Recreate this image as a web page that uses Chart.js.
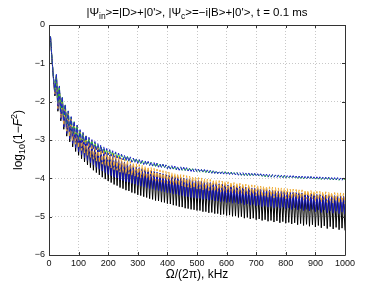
<!doctype html>
<html lang="en">
<head>
  <meta charset="utf-8">
  <title>log10(1-F^2) vs Omega</title>
  <script src="https://cdn.jsdelivr.net/npm/chart.js@4.4.1/dist/chart.umd.min.js"></script>
  <style>
    html, body { margin: 0; padding: 0; background: #fff; }
    canvas { display: block; }
  </style>
</head>
<body>
<canvas id="fidChart" width="382" height="287"></canvas>
<script>
  // frequency grid, kHz
  const freq = [
    5,10,15,20,25,30,35,40,45,50,55,60,65,70,75,80,85,90,95,100,
    105,110,115,120,125,130,135,140,145,150,155,160,165,170,175,180,185,190,195,200,
    205,210,215,220,225,230,235,240,245,250,255,260,265,270,275,280,285,290,295,300,
    305,310,315,320,325,330,335,340,345,350,355,360,365,370,375,380,385,390,395,400,
    405,410,415,420,425,430,435,440,445,450,455,460,465,470,475,480,485,490,495,500,
    505,510,515,520,525,530,535,540,545,550,555,560,565,570,575,580,585,590,595,600,
    605,610,615,620,625,630,635,640,645,650,655,660,665,670,675,680,685,690,695,700,
    705,710,715,720,725,730,735,740,745,750,755,760,765,770,775,780,785,790,795,800,
    805,810,815,820,825,830,835,840,845,850,855,860,865,870,875,880,885,890,895,900,
    905,910,915,920,925,930,935,940,945,950,955,960,965,970,975,980,985,990,995,1000
  ];

  const blackSolid = [
    -0.30,-0.88,-1.40,-1.85,-1.32,-2.25,-1.64,-2.50,-1.92,-2.72,-2.12,-2.90,-2.30,-3.05,-2.45,-3.18,-2.58,-3.30,-2.69,-3.40,
    -2.79,-3.49,-2.88,-3.57,-2.96,-3.65,-3.03,-3.72,-3.10,-3.79,-3.16,-3.85,-3.22,-3.91,-3.27,-3.97,-3.32,-4.02,-3.37,-4.07,
    -3.41,-4.11,-3.45,-4.16,-3.49,-4.19,-3.53,-4.24,-3.57,-4.27,-3.60,-4.31,-3.63,-4.33,-3.66,-4.37,-3.69,-4.39,-3.72,-4.43,
    -3.74,-4.45,-3.76,-4.48,-3.78,-4.50,-3.80,-4.53,-3.82,-4.55,-3.84,-4.58,-3.86,-4.59,-3.88,-4.62,-3.90,-4.63,-3.92,-4.66,
    -3.94,-4.67,-3.95,-4.70,-3.97,-4.71,-3.98,-4.74,-4.00,-4.75,-4.01,-4.78,-4.03,-4.79,-4.04,-4.81,-4.06,-4.82,-4.07,-4.84,
    -4.08,-4.84,-4.09,-4.87,-4.11,-4.87,-4.12,-4.90,-4.13,-4.89,-4.14,-4.92,-4.15,-4.92,-4.16,-4.95,-4.17,-4.94,-4.18,-4.97,
    -4.19,-4.96,-4.20,-4.99,-4.21,-4.98,-4.22,-5.02,-4.23,-5.00,-4.24,-5.04,-4.25,-5.02,-4.26,-5.06,-4.27,-5.04,-4.28,-5.08,
    -4.29,-5.06,-4.30,-5.10,-4.31,-5.08,-4.31,-5.12,-4.32,-5.10,-4.33,-5.14,-4.34,-5.11,-4.35,-5.16,-4.35,-5.13,-4.36,-5.17,
    -4.37,-5.15,-4.38,-5.19,-4.38,-5.16,-4.39,-5.21,-4.40,-5.18,-4.40,-5.23,-4.41,-5.20,-4.42,-5.25,-4.42,-5.21,-4.43,-5.27,
    -4.44,-5.23,-4.44,-5.29,-4.45,-5.24,-4.45,-5.31,-4.46,-5.26,-4.47,-5.32,-4.47,-5.28,-4.48,-5.34,-4.48,-5.30,-4.49,-5.36
  ];

  const blueSolid = [
    -0.30,-0.88,-1.38,-1.82,-1.30,-2.21,-1.62,-2.45,-1.90,-2.66,-2.10,-2.83,-2.28,-2.97,-2.43,-3.09,-2.56,-3.20,-2.67,-3.30,
    -2.77,-3.38,-2.86,-3.46,-2.94,-3.53,-3.01,-3.59,-3.08,-3.65,-3.14,-3.71,-3.20,-3.76,-3.25,-3.81,-3.30,-3.85,-3.35,-3.90,
    -3.39,-3.93,-3.43,-3.97,-3.47,-3.99,-3.51,-4.04,-3.55,-4.06,-3.58,-4.09,-3.61,-4.10,-3.64,-4.13,-3.67,-4.15,-3.70,-4.18,
    -3.72,-4.20,-3.74,-4.22,-3.76,-4.24,-3.78,-4.27,-3.80,-4.28,-3.82,-4.31,-3.84,-4.32,-3.86,-4.34,-3.88,-4.35,-3.90,-4.38,
    -3.92,-4.38,-3.93,-4.41,-3.95,-4.41,-3.96,-4.44,-3.98,-4.45,-3.99,-4.47,-4.01,-4.48,-4.02,-4.50,-4.04,-4.50,-4.05,-4.52,
    -4.06,-4.52,-4.07,-4.55,-4.09,-4.54,-4.10,-4.57,-4.11,-4.56,-4.12,-4.59,-4.13,-4.59,-4.14,-4.61,-4.15,-4.60,-4.16,-4.63,
    -4.17,-4.62,-4.18,-4.65,-4.19,-4.63,-4.20,-4.67,-4.21,-4.65,-4.22,-4.69,-4.23,-4.67,-4.24,-4.70,-4.25,-4.68,-4.26,-4.72,
    -4.27,-4.70,-4.28,-4.74,-4.29,-4.71,-4.29,-4.75,-4.30,-4.73,-4.31,-4.77,-4.32,-4.74,-4.33,-4.78,-4.33,-4.75,-4.34,-4.79,
    -4.35,-4.77,-4.36,-4.81,-4.36,-4.77,-4.37,-4.82,-4.38,-4.79,-4.38,-4.84,-4.39,-4.81,-4.40,-4.85,-4.40,-4.81,-4.41,-4.87,
    -4.42,-4.83,-4.42,-4.89,-4.43,-4.83,-4.43,-4.90,-4.44,-4.85,-4.45,-4.91,-4.45,-4.86,-4.46,-4.92,-4.46,-4.88,-4.47,-4.94
  ];

  const orangeDashed = [
    -0.30,-0.88,-1.38,-1.80,-1.30,-2.18,-1.62,-2.41,-1.90,-2.61,-2.10,-2.77,-2.27,-2.90,-2.42,-3.01,-2.54,-3.11,-2.64,-3.20,
    -2.73,-3.27,-2.82,-3.34,-2.89,-3.40,-2.96,-3.45,-3.02,-3.50,-3.08,-3.55,-3.13,-3.59,-3.18,-3.63,-3.23,-3.66,-3.27,-3.70,
    -3.31,-3.73,-3.35,-3.77,-3.39,-3.79,-3.43,-3.84,-3.47,-3.85,-3.50,-3.88,-3.53,-3.89,-3.56,-3.92,-3.59,-3.94,-3.62,-3.96,
    -3.64,-3.98,-3.66,-3.99,-3.68,-4.01,-3.70,-4.04,-3.72,-4.05,-3.74,-4.07,-3.76,-4.08,-3.78,-4.10,-3.80,-4.11,-3.82,-4.14,
    -3.84,-4.14,-3.85,-4.17,-3.87,-4.17,-3.88,-4.19,-3.90,-4.20,-3.91,-4.22,-3.93,-4.23,-3.94,-4.25,-3.96,-4.25,-3.97,-4.27,
    -3.98,-4.27,-3.99,-4.30,-4.01,-4.29,-4.02,-4.32,-4.03,-4.31,-4.04,-4.34,-4.05,-4.34,-4.06,-4.36,-4.07,-4.35,-4.08,-4.37,
    -4.09,-4.36,-4.10,-4.39,-4.11,-4.37,-4.12,-4.41,-4.13,-4.39,-4.14,-4.43,-4.15,-4.41,-4.16,-4.44,-4.17,-4.42,-4.18,-4.46,
    -4.19,-4.44,-4.20,-4.48,-4.21,-4.45,-4.21,-4.49,-4.22,-4.47,-4.23,-4.51,-4.24,-4.48,-4.25,-4.52,-4.25,-4.49,-4.26,-4.53,
    -4.27,-4.51,-4.28,-4.54,-4.28,-4.50,-4.29,-4.55,-4.30,-4.52,-4.30,-4.57,-4.31,-4.54,-4.32,-4.58,-4.32,-4.54,-4.33,-4.60,
    -4.34,-4.56,-4.34,-4.62,-4.35,-4.56,-4.35,-4.63,-4.36,-4.58,-4.37,-4.64,-4.37,-4.59,-4.38,-4.65,-4.38,-4.61,-4.39,-4.67
  ];

  const greenDashed = [
    -0.30,-0.88,-1.36,-1.70,-1.30,-2.02,-1.60,-2.27,-1.88,-2.45,-2.08,-2.60,-2.25,-2.72,-2.40,-2.83,-2.52,-2.92,-2.62,-3.00,
    -2.76,-3.02,-2.83,-3.07,-2.90,-3.12,-2.96,-3.16,-3.02,-3.21,-3.07,-3.25,-3.12,-3.29,-3.16,-3.32,-3.20,-3.35,-3.24,-3.37,
    -3.27,-3.40,-3.30,-3.43,-3.33,-3.46,-3.36,-3.48,-3.39,-3.51,-3.41,-3.53,-3.43,-3.55,-3.46,-3.57,-3.48,-3.58,-3.50,-3.60,
    -3.52,-3.62,-3.53,-3.63,-3.55,-3.65,-3.57,-3.66,-3.58,-3.68,-3.60,-3.69,-3.61,-3.70,-3.63,-3.72,-3.64,-3.73,-3.65,-3.74,
    -3.67,-3.75,-3.68,-3.76,-3.69,-3.77,-3.70,-3.78,-3.71,-3.79,-3.72,-3.80,-3.73,-3.81,-3.74,-3.81,-3.75,-3.82,-3.76,-3.83,
    -3.77,-3.84,-3.77,-3.84,-3.78,-3.85,-3.79,-3.86,-3.80,-3.86,-3.80,-3.87,-3.81,-3.87,-3.82,-3.88,-3.82,-3.88,-3.83,-3.89,
    -3.84,-3.90,-3.84,-3.90,-3.85,-3.91,-3.85,-3.91,-3.86,-3.92,-3.86,-3.92,-3.87,-3.93,-3.87,-3.93,-3.88,-3.94,-3.88,-3.94,
    -3.89,-3.95,-3.89,-3.95,-3.90,-3.96,-3.90,-3.96,-3.91,-3.96,-3.91,-3.97,-3.92,-3.97,-3.92,-3.98,-3.93,-3.98,-3.93,-3.98,
    -3.94,-3.99,-3.94,-3.99,-3.94,-4.00,-3.95,-4.00,-3.95,-4.00,-3.95,-4.01,-3.96,-4.01,-3.96,-4.01,-3.96,-4.02,-3.97,-4.02,
    -3.97,-4.02,-3.97,-4.03,-3.98,-4.03,-3.98,-4.03,-3.98,-4.04,-3.99,-4.04,-3.99,-4.04,-3.99,-4.05,-4.00,-4.05,-4.00,-4.05
  ];

  const blueDashed = [
    -0.30,-0.88,-1.37,-1.74,-1.29,-2.08,-1.59,-2.32,-1.87,-2.51,-2.07,-2.66,-2.24,-2.78,-2.39,-2.89,-2.51,-2.98,-2.61,-3.06,
    -2.73,-3.07,-2.80,-3.12,-2.87,-3.16,-2.93,-3.20,-2.99,-3.24,-3.04,-3.28,-3.09,-3.31,-3.13,-3.34,-3.18,-3.37,-3.22,-3.39,
    -3.25,-3.42,-3.28,-3.45,-3.31,-3.47,-3.34,-3.50,-3.37,-3.52,-3.40,-3.54,-3.42,-3.56,-3.44,-3.58,-3.47,-3.59,-3.49,-3.61,
    -3.51,-3.62,-3.53,-3.64,-3.54,-3.65,-3.56,-3.67,-3.57,-3.68,-3.59,-3.70,-3.60,-3.71,-3.62,-3.72,-3.63,-3.73,-3.65,-3.75,
    -3.66,-3.76,-3.67,-3.77,-3.68,-3.78,-3.69,-3.79,-3.70,-3.80,-3.71,-3.80,-3.72,-3.81,-3.73,-3.82,-3.74,-3.83,-3.75,-3.83,
    -3.76,-3.84,-3.77,-3.85,-3.77,-3.85,-3.78,-3.86,-3.79,-3.87,-3.79,-3.87,-3.80,-3.88,-3.81,-3.88,-3.81,-3.89,-3.82,-3.89,
    -3.83,-3.90,-3.83,-3.90,-3.84,-3.91,-3.84,-3.92,-3.85,-3.92,-3.85,-3.93,-3.86,-3.93,-3.86,-3.94,-3.87,-3.94,-3.87,-3.95,
    -3.88,-3.95,-3.88,-3.96,-3.89,-3.96,-3.89,-3.97,-3.90,-3.97,-3.90,-3.97,-3.91,-3.98,-3.91,-3.98,-3.92,-3.99,-3.92,-3.99,
    -3.93,-3.99,-3.93,-4.00,-3.93,-4.00,-3.94,-4.01,-3.94,-4.01,-3.94,-4.01,-3.95,-4.02,-3.95,-4.02,-3.95,-4.02,-3.96,-4.03,
    -3.96,-4.03,-3.96,-4.03,-3.97,-4.04,-3.97,-4.04,-3.97,-4.04,-3.98,-4.05,-3.98,-4.05,-3.98,-4.05,-3.99,-4.06,-3.99,-4.06
  ];

  const xTicks = [0, 100, 200, 300, 400, 500, 600, 700, 800, 900, 1000];
  const yTicks = [-6, -5, -4, -3, -2, -1, 0];

  const FONT = '"Liberation Sans", Arial, sans-serif';

  function pts(ys) {
    return freq.map((f, i) => ({ x: f, y: ys[i] }));
  }

  // draws a run of text pieces; each piece may be shifted up/down and smaller
  function drawRuns(ctx, runs, x, y, align) {
    let total = 0;
    runs.forEach(r => {
      ctx.font = (r.italic ? 'italic ' : '') + r.size + 'px ' + FONT;
      r.w = ctx.measureText(r.t).width;
      total += r.w;
    });
    let cx = align === 'center' ? x - total / 2 : x;
    runs.forEach(r => {
      ctx.font = (r.italic ? 'italic ' : '') + r.size + 'px ' + FONT;
      ctx.fillText(r.t, cx, y + (r.dy || 0));
      cx += r.w;
    });
  }

  const matlabFrame = {
    id: 'matlabFrame',
    afterDraw(chart) {
      const ctx = chart.ctx;
      const a = chart.chartArea;
      const xs = chart.scales.x, ys = chart.scales.y;
      ctx.save();
      ctx.strokeStyle = '#333';
      ctx.lineWidth = 1;
      ctx.beginPath();
      ctx.rect(Math.round(a.left) + 0.5, Math.round(a.top) + 0.5,
               Math.round(a.right - a.left), Math.round(a.bottom - a.top));
      ctx.stroke();
      // inward tick marks on all four sides
      ctx.beginPath();
      xTicks.forEach(v => {
        const px = Math.round(xs.getPixelForValue(v)) + 0.5;
        ctx.moveTo(px, a.bottom); ctx.lineTo(px, a.bottom - 3);
        ctx.moveTo(px, a.top); ctx.lineTo(px, a.top + 3);
      });
      yTicks.forEach(v => {
        const py = Math.round(ys.getPixelForValue(v)) + 0.5;
        ctx.moveTo(a.left, py); ctx.lineTo(a.left + 3, py);
        ctx.moveTo(a.right, py); ctx.lineTo(a.right - 3, py);
      });
      ctx.stroke();

      ctx.fillStyle = '#000';
      ctx.textBaseline = 'alphabetic';
      const midX = (a.left + a.right) / 2;
      // title
      drawRuns(ctx, [
        { t: '|\u03A8', size: 11.5 },
        { t: 'in', size: 8.5, dy: 3 },
        { t: '>=|D>+|0\'>, |\u03A8', size: 11.5 },
        { t: 'c', size: 8.5, dy: 3 },
        { t: '>=\u2212i|B>+|0\'>, t = 0.1 ms', size: 11.5 }
      ], midX, 16, 'center');
      // x axis title
      drawRuns(ctx, [{ t: '\u03A9/(2\u03C0), kHz', size: 12 }], midX, 278, 'center');
      // y axis title, rotated
      ctx.translate(22, (a.top + a.bottom) / 2);
      ctx.rotate(-Math.PI / 2);
      drawRuns(ctx, [
        { t: 'log', size: 12 },
        { t: '10', size: 9, dy: 3 },
        { t: '(1\u2212', size: 12 },
        { t: 'F', size: 12, italic: true },
        { t: '2', size: 9, dy: -5 },
        { t: ')', size: 12 }
      ], 0, 0, 'center');
      ctx.restore();
    }
  };

  const ctx = document.getElementById('fidChart').getContext('2d');
  const fidChart = new Chart(ctx, {
    type: 'line',
    data: {
      datasets: [
        { label: 'blue dashed', data: pts(blueDashed), borderColor: '#2222cc', borderDash: [4, 2], order: 0 },
        { label: 'green dashed', data: pts(greenDashed), borderColor: '#22c322', borderDash: [4, 2], order: 1 },
        { label: 'orange dashed', data: pts(orangeDashed), borderColor: '#eeaa33', borderDash: [4, 2], order: 2 },
        { label: 'blue', data: pts(blueSolid), borderColor: '#1515b5', order: 3 },
        { label: 'black', data: pts(blackSolid), borderColor: '#000000', order: 4 }
      ]
    },
    options: {
      responsive: false,
      animation: false,
      devicePixelRatio: 1,
      layout: { padding: { left: 0, right: 37, top: 25, bottom: 0 } },
      elements: {
        point: { radius: 0 },
        line: { borderWidth: 1, tension: 0, fill: false }
      },
      plugins: {
        legend: { display: false },
        tooltip: { enabled: false },
        title: { display: false }
      },
      scales: {
        x: {
          type: 'linear',
          min: 0, max: 1000,
          afterFit: s => { s.height = 32; },
          afterBuildTicks: s => { s.ticks = xTicks.map(v => ({ value: v })); },
          grid: { color: '#c8c8c8', drawTicks: false, lineWidth: 1 },
          border: { display: false, dash: [1, 2] },
          ticks: {
            padding: 3, color: '#111', font: { family: FONT, size: 9 }, maxRotation: 0,
            callback: v => String(v)
          }
        },
        y: {
          min: -6, max: 0,
          afterFit: s => { s.width = 49; },
          afterBuildTicks: s => { s.ticks = yTicks.map(v => ({ value: v })); },
          grid: { color: '#c8c8c8', drawTicks: false, lineWidth: 1 },
          border: { display: false, dash: [1, 2] },
          ticks: {
            padding: 4, color: '#111', font: { family: FONT, size: 9 },
            callback: v => String(v).replace('-', '\u2212')
          }
        }
      }
    },
    plugins: [matlabFrame]
  });
</script>
</body>
</html>
